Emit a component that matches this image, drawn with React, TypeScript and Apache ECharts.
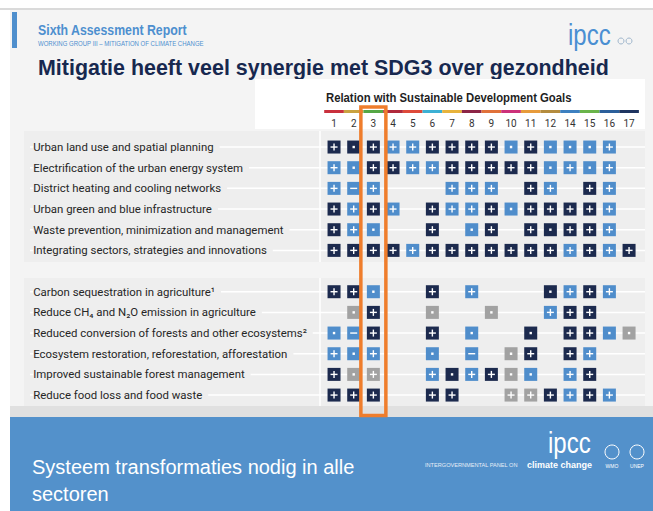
import React, { useEffect, useRef } from "react";
import * as echarts from "echarts";

const goals = ["1", "2", "3", "4", "5", "6", "7", "8", "9", "10", "11", "12", "14", "15", "16", "17"];
const goalColors = ["#c9303d", "#c9a240", "#55a745", "#b02a3b", "#de4a3a", "#3cb0d4", "#e7b33c", "#8c2546", "#e0713a", "#cc317a", "#e79b3b", "#b48c3e", "#3d80c0", "#6ab44a", "#2c5f9a", "#1f3560"];
const highlightGoal = "3";

const rowLabels = [
  "Urban land use and spatial planning",
  "Electrification of the urban energy system",
  "District heating and cooling networks",
  "Urban green and blue infrastructure",
  "Waste prevention, minimization and management",
  "Integrating sectors, strategies and innovations",
  "",
  "Carbon sequestration in agriculture\u00B9",
  "Reduce CH\u2084 and N\u2082O emission in agriculture",
  "Reduced conversion of forests and other ecosystems\u00B2",
  "Ecosystem restoration, reforestation, afforestation",
  "Improved sustainable forest management",
  "Reduce food loss and food waste",
];

// D = dark (robust), L = light blue, G = grey ; + synergy, . neutral/low, - trade-off
const urbanLandUse = ["D+", "D.", "D+", "L+", "L+", "D+", "D+", "D+", "D+", "L.", "D+", "L.", "L.", "L.", "L+", ""];
const electrification = ["L+", "L.", "D+", "D+", "L+", "L+", "D+", "D+", "D+", "D+", "D+", "L.", "L+", "L.", "L+", ""];
const districtHeating = ["L+", "L-", "L+", "", "", "", "L+", "L+", "L+", "", "D+", "L+", "", "D+", "L+", ""];
const urbanGreen = ["D+", "L+", "D+", "L+", "", "D+", "L+", "L+", "D+", "L.", "D+", "D+", "D+", "D+", "L+", ""];
const wasteManagement = ["D+", "L+", "L.", "", "", "D+", "", "L.", "D+", "", "D+", "D.", "D+", "D+", "L+", ""];
const integratingSectors = ["D+", "D+", "D+", "D+", "L+", "D+", "D+", "D+", "D+", "D+", "D+", "D+", "L+", "D+", "L+", "D+"];
const spacerRow: string[] = [];
const carbonSequestration = ["D+", "D+", "L.", "", "", "D+", "", "L+", "", "", "", "D.", "L+", "D+", "L+", ""];
const reduceCH4N2O = ["", "G.", "D+", "", "", "G.", "", "", "G.", "", "", "L+", "D+", "D+", "", ""];
const reducedConversion = ["L.", "L-", "D+", "", "", "D+", "", "L.", "", "", "D.", "", "D+", "D+", "L.", "G."];
const ecosystemRestoration = ["L+", "L.", "L+", "", "", "L.", "", "L-", "", "G.", "D+", "", "D+", "L+", "", ""];
const forestManagement = ["D+", "G.", "G+", "", "", "L+", "D.", "L+", "D+", "G.", "L.", "", "L+", "D+", "", ""];
const foodLoss = ["D+", "D+", "D+", "", "", "D+", "D+", "", "", "G+", "G+", "D+", "L+", "D+", "L+", ""];

const rowValues = [
  urbanLandUse, electrification, districtHeating, urbanGreen, wasteManagement, integratingSectors,
  spacerRow,
  carbonSequestration, reduceCH4N2O, reducedConversion, ecosystemRestoration, forestManagement, foodLoss,
];

const toneColors: Record<string, string> = { D: "#1c2a4e", L: "#4f8dcb", G: "#a2a2a2" };

type Cell = { x: number; y: number; tone: string; sym: string };
const cells: Cell[] = [];
rowValues.forEach((row, yi) => {
  row.forEach((code, xi) => {
    if (code) cells.push({ x: xi, y: yi, tone: code[0], sym: code[1] });
  });
});

const FONT = '"Liberation Sans", Arial, sans-serif';
const PANEL = "#eeeeee";

export default function App() {
  const ref = useRef<HTMLDivElement>(null);
  useEffect(() => {
    const chart = echarts.init(ref.current!, null, { renderer: "svg" });
    const rowIdx = rowLabels.map((l, i) => (l ? i : -1)).filter((i) => i >= 0);
    const option: any = {
      animation: false,
      backgroundColor: "#ffffff",
      grid: { left: 324.2, top: 136.7, width: 314.7, height: 268.7, containLabel: false },
      xAxis: {
        type: "category",
        position: "top",
        data: goals,
        axisLine: { show: false },
        axisTick: { show: false },
        splitLine: { show: false },
        axisLabel: { interval: 0, margin: 8, fontSize: 10, color: "#333", fontFamily: "Roboto" },
      },
      yAxis: {
        type: "category",
        inverse: true,
        data: rowLabels,
        z: 3,
        axisLine: { show: false },
        axisTick: { show: false },
        splitLine: { show: false },
        axisLabel: {
          interval: 0,
          align: "left",
          margin: 291,
          formatter: (v: string) => (v ? `{a|${v}}` : ""),
          rich: {
            a: {
              fontSize: 11.4,
              fontFamily: "Roboto",
              color: "#262626",
              backgroundColor: PANEL,
              padding: [2, 6, 2, 0],
            },
          },
        },
      },
      graphic: [
        { type: "rect", shape: { x: 0, y: 8, width: 653, height: 2 }, style: { fill: "#dadada" } },
        { type: "rect", shape: { x: 10, y: 10, width: 643, height: 397 }, style: { fill: "#f4f4f4" } },
        { type: "rect", shape: { x: 12, y: 12, width: 5, height: 36 }, style: { fill: "#4f8fcd" } },
        { type: "text", x: 38, y: 30, scaleX: 0.88, style: { text: "Sixth Assessment Report", font: `bold 14px ${FONT}`, fill: "#4d8fcf", verticalAlign: "middle" } },
        { type: "text", x: 38, y: 43, scaleX: 0.86, style: { text: "WORKING GROUP III \u2013 MITIGATION OF CLIMATE CHANGE", font: `7px ${FONT}`, fill: "#4d8fcf", verticalAlign: "middle" } },
        { type: "text", x: 568, y: 35, scaleX: 0.8, style: { text: "ipcc", font: `30px ${FONT}`, fill: "#4a8fd2", verticalAlign: "middle" } },
        { type: "circle", shape: { cx: 621, cy: 41, r: 3 }, style: { fill: "none", stroke: "#9fb6cc", lineWidth: 1 } },
        { type: "circle", shape: { cx: 629, cy: 41, r: 3 }, style: { fill: "none", stroke: "#9fb6cc", lineWidth: 1 } },
        { type: "text", x: 38, y: 67, scaleX: 0.975, style: { text: "Mitigatie heeft veel synergie met SDG3 over gezondheid", font: `bold 22px ${FONT}`, fill: "#17284f", verticalAlign: "middle" } },
        { type: "rect", shape: { x: 255, y: 79, width: 390, height: 50 }, style: { fill: "#ffffff" } },
        { type: "text", x: 326, y: 98, scaleX: 0.87, style: { text: "Relation with Sustainable Development Goals", font: `bold 13px ${FONT}`, fill: "#1e1e1e", verticalAlign: "middle" } },
        { type: "rect", shape: { x: 24, y: 131, width: 621, height: 131 }, style: { fill: PANEL } },
        { type: "rect", shape: { x: 24, y: 278, width: 621, height: 128 }, style: { fill: PANEL } },
        { type: "line", shape: { x1: 320, y1: 131, x2: 320, y2: 262 }, style: { stroke: "#ffffff", lineWidth: 1.5 } },
        { type: "line", shape: { x1: 320, y1: 278, x2: 320, y2: 406 }, style: { stroke: "#ffffff", lineWidth: 1.5 } },
        { type: "rect", shape: { x: 10, y: 406, width: 643, height: 11 }, style: { fill: "#e0e0e0" } },
        { type: "rect", shape: { x: 10, y: 417, width: 643, height: 94 }, style: { fill: "#5391cb" } },
        { type: "text", x: 32, y: 467, style: { text: "Systeem transformaties nodig in alle", font: `20px ${FONT}`, fill: "#ffffff", verticalAlign: "middle" } },
        { type: "text", x: 32, y: 494, style: { text: "sectoren", font: `20px ${FONT}`, fill: "#ffffff", verticalAlign: "middle" } },
        { type: "text", x: 548, y: 443, scaleX: 0.8, style: { text: "ipcc", font: `30px ${FONT}`, fill: "#ffffff", verticalAlign: "middle" } },
        { type: "text", x: 425, y: 465, scaleX: 1.02, style: { text: "INTERGOVERNMENTAL PANEL ON", font: `5.5px ${FONT}`, fill: "#e6eef7", verticalAlign: "middle" } },
        { type: "text", x: 592, y: 465, style: { text: "climate change", font: `bold 9px ${FONT}`, fill: "#ffffff", align: "right", verticalAlign: "middle" } },
        { type: "circle", shape: { cx: 612, cy: 452, r: 7 }, style: { fill: "none", stroke: "#ffffff", lineWidth: 1 } },
        { type: "circle", shape: { cx: 637, cy: 452, r: 7 }, style: { fill: "none", stroke: "#ffffff", lineWidth: 1 } },
        { type: "text", x: 612, y: 466, style: { text: "WMO", font: `5px ${FONT}`, fill: "#ffffff", align: "center", verticalAlign: "middle" } },
        { type: "text", x: 637, y: 466, style: { text: "UNEP", font: `5px ${FONT}`, fill: "#ffffff", align: "center", verticalAlign: "middle" } },
      ],
      series: [
        {
          type: "custom",
          z: 1,
          silent: true,
          data: rowIdx.map((i) => [0, i]),
          renderItem: (params: any, api: any) => {
            const c = api.coord([0, api.value(1)]);
            return { type: "line", shape: { x1: 30, y1: c[1], x2: 645, y2: c[1] }, style: { stroke: "#ffffff", lineWidth: 1.5 } };
          },
        },
        {
          type: "custom",
          z: 2,
          silent: true,
          data: goals.map((_, i) => [i, 0]),
          renderItem: (params: any, api: any) => {
            const c = api.coord([api.value(0), 0]);
            const w = api.size([1, 0])[0];
            return { type: "rect", shape: { x: c[0] - w / 2, y: 110, width: w, height: 3 }, style: { fill: goalColors[params.dataIndex] } };
          },
        },
        {
          type: "custom",
          z: 4,
          silent: true,
          data: cells.map((c) => [c.x, c.y]),
          renderItem: (params: any, api: any) => {
            const cell = cells[params.dataIndex];
            const p = api.coord([api.value(0), api.value(1)]);
            const cx = p[0], cy = p[1];
            const children: any[] = [
              { type: "rect", shape: { x: cx - 6.5, y: cy - 6.5, width: 13, height: 13 }, style: { fill: toneColors[cell.tone] } },
            ];
            const white = { fill: "#ffffff" };
            if (cell.sym === "+") {
              children.push({ type: "rect", shape: { x: cx - 3.5, y: cy - 0.7, width: 7, height: 1.4 }, style: white });
              children.push({ type: "rect", shape: { x: cx - 0.7, y: cy - 3.5, width: 1.4, height: 7 }, style: white });
            } else if (cell.sym === "-") {
              children.push({ type: "rect", shape: { x: cx - 3.5, y: cy - 0.7, width: 7, height: 1.4 }, style: white });
            } else {
              children.push({ type: "rect", shape: { x: cx - 1.2, y: cy - 1.2, width: 2.4, height: 2.4 }, style: white });
            }
            return { type: "group", children };
          },
        },
        {
          type: "custom",
          z: 6,
          silent: true,
          data: [[goals.indexOf(highlightGoal), 0]],
          renderItem: (params: any, api: any) => {
            const c = api.coord([api.value(0), 0]);
            return {
              type: "rect",
              shape: { x: c[0] - 12.5, y: 107, width: 25, height: 308.5 },
              style: { fill: "none", stroke: "#ef7d2c", lineWidth: 3.5 },
            };
          },
        },
      ],
    };
    chart.setOption(option);
    return () => chart.dispose();
  }, []);
  return <div ref={ref} style={{ position: "fixed", left: 0, top: 0, width: 653, height: 511 }} />;
}
